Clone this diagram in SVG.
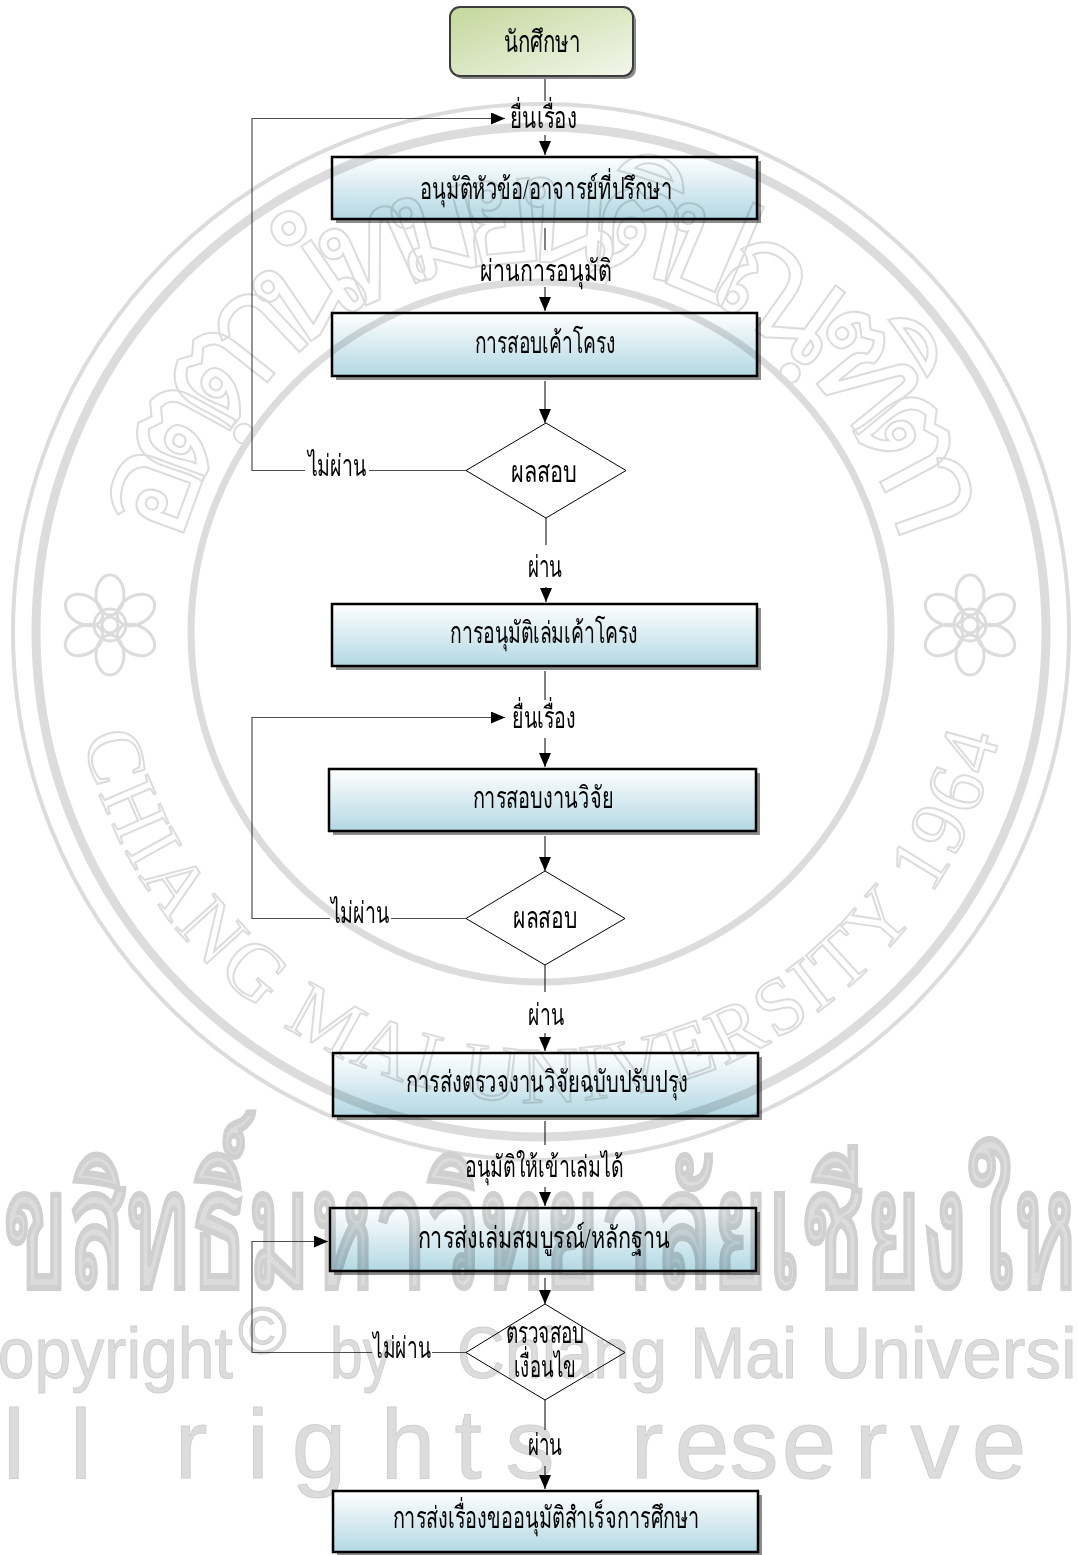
<svg xmlns="http://www.w3.org/2000/svg" width="1077" height="1555" viewBox="0 0 1077 1555">
<defs>
<linearGradient id="gBox" x1="0" y1="0" x2="0" y2="1">
<stop offset="0" stop-color="#ffffff"/>
<stop offset="0.3" stop-color="#e8f3f7"/>
<stop offset="1" stop-color="#b3d8e3"/>
</linearGradient>
<linearGradient id="gStart" x1="0" y1="0" x2="1" y2="1">
<stop offset="0" stop-color="#c3d79b"/>
<stop offset="1" stop-color="#f3f7ec"/>
</linearGradient>
<marker id="ah" viewBox="0 0 14 12" refX="14" refY="6" markerWidth="14" markerHeight="12" markerUnits="userSpaceOnUse" orient="auto">
<path d="M0,0 L14,6 L0,12 z" fill="#000"/>
</marker>
<path id="arcTop" d="M 180.5,548.8 A 370 370 0 0 1 901.5,548.8"/>
<path id="arcBot" d="M 83,737.7 A 470 470 0 0 0 999,737.7"/>
<g id="flower" fill="none" stroke="#dcdcdc" stroke-width="3">
<circle r="8"/>
<circle r="16"/>
<ellipse cx="0" cy="-30" rx="14" ry="20"/>
<ellipse cx="0" cy="-30" rx="14" ry="20" transform="rotate(60)"/>
<ellipse cx="0" cy="-30" rx="14" ry="20" transform="rotate(120)"/>
<ellipse cx="0" cy="-30" rx="14" ry="20" transform="rotate(180)"/>
<ellipse cx="0" cy="-30" rx="14" ry="20" transform="rotate(240)"/>
<ellipse cx="0" cy="-30" rx="14" ry="20" transform="rotate(300)"/>
</g>
</defs>
<style>
.sh{fill:#8c8c8c}
.box{fill:url(#gBox);stroke:#000;stroke-width:2.5}
.dia{fill:#fff;stroke:#000;stroke-width:1}
.t{font-family:"Liberation Serif","DejaVu Serif",serif;font-size:30px;fill:#000;text-anchor:middle}
.ts{text-anchor:start}
.ln{stroke:#000;stroke-width:1;fill:none}
.fb{stroke:#505050;stroke-width:1.2;fill:none}
.wm{fill:none;stroke:#dcdcdc}
.wt{fill:#dcdcdc;stroke:#d0d0d0;stroke-width:1}
.wf{font-family:"Liberation Sans",Arial,sans-serif}
</style>
<rect x="0" y="0" width="1077" height="1555" fill="#fff"/>

<g id="connectors">
<line class="ln" x1="545" y1="79" x2="545" y2="101"/>
<polyline class="fb" points="305,470.5 252,470.5 252,118.5 505,118.5" marker-end="url(#ah)"/>
<line class="fb" x1="369" y1="470.5" x2="466" y2="470.5"/>
<text class="t ts" x="510" y="128" textLength="67" lengthAdjust="spacingAndGlyphs">ยื่นเรื่อง</text>
<line class="ln" x1="545" y1="135" x2="545" y2="155" marker-end="url(#ah)"/>
<line class="ln" x1="545" y1="228" x2="545" y2="250"/>
<text class="t" x="546" y="281" textLength="132" lengthAdjust="spacingAndGlyphs">ผ่านการอนุมัติ</text>
<line class="ln" x1="545" y1="287" x2="545" y2="311" marker-end="url(#ah)"/>
<line class="ln" x1="545" y1="381" x2="545" y2="423" marker-end="url(#ah)"/>
<text class="t" x="337" y="476" textLength="59" lengthAdjust="spacingAndGlyphs">ไม่ผ่าน</text>
<line class="ln" x1="546" y1="518" x2="546" y2="545"/>
<text class="t" x="545" y="577" textLength="35" lengthAdjust="spacingAndGlyphs">ผ่าน</text>
<line class="ln" x1="546" y1="587" x2="546" y2="602" marker-end="url(#ah)"/>
<line class="ln" x1="545" y1="671" x2="545" y2="700"/>
<polyline class="fb" points="330,918.5 252,918.5 252,717.5 505,717.5" marker-end="url(#ah)"/>
<line class="fb" x1="391" y1="918.5" x2="466" y2="918.5"/>
<text class="t ts" x="512" y="728" textLength="64" lengthAdjust="spacingAndGlyphs">ยื่นเรื่อง</text>
<line class="ln" x1="545" y1="738" x2="545" y2="767" marker-end="url(#ah)"/>
<line class="ln" x1="545" y1="836" x2="545" y2="871" marker-end="url(#ah)"/>
<text class="t" x="360" y="923" textLength="59" lengthAdjust="spacingAndGlyphs">ไม่ผ่าน</text>
<line class="ln" x1="545" y1="965" x2="545" y2="992"/>
<text class="t" x="546" y="1025" textLength="36" lengthAdjust="spacingAndGlyphs">ผ่าน</text>
<line class="ln" x1="545" y1="1033" x2="545" y2="1051" marker-end="url(#ah)"/>
<line class="ln" x1="545" y1="1121" x2="545" y2="1145"/>
<text class="t" x="544" y="1177" textLength="158" lengthAdjust="spacingAndGlyphs">อนุมัติให้เข้าเล่มได้</text>
<line class="ln" x1="545" y1="1187" x2="545" y2="1206" marker-end="url(#ah)"/>
<line class="ln" x1="545" y1="1278" x2="545" y2="1304" marker-end="url(#ah)"/>
<polyline class="fb" points="372,1352.5 252,1352.5 252,1241.5 328,1241.5" marker-end="url(#ah)"/>
<line class="fb" x1="432" y1="1352.5" x2="466" y2="1352.5"/>
<text class="t" x="402" y="1358" textLength="58" lengthAdjust="spacingAndGlyphs">ไม่ผ่าน</text>
<line class="ln" x1="545" y1="1400" x2="545" y2="1430"/>
<text class="t" x="545" y="1455" textLength="35" lengthAdjust="spacingAndGlyphs">ผ่าน</text>
<line class="ln" x1="545" y1="1466" x2="545" y2="1489" marker-end="url(#ah)"/>
</g>

<g id="n-start">
<rect x="453" y="10" width="183" height="69" rx="10" fill="#8c8c8c"/>
<rect x="450" y="7" width="183" height="69" rx="10" fill="url(#gStart)" stroke="#3c3c3c" stroke-width="2"/>
<text class="t" x="542" y="52" textLength="77" lengthAdjust="spacingAndGlyphs">นักศึกษา</text>
</g>
<g id="n-approve-topic">
<rect class="sh" x="336" y="161" width="425" height="62"/>
<rect class="box" x="332" y="157" width="425" height="62"/>
<text class="t" x="546" y="199" textLength="252" lengthAdjust="spacingAndGlyphs">อนุมัติหัวข้อ/อาจารย์ที่ปรึกษา</text>
</g>
<g id="n-proposal-exam">
<rect class="sh" x="336" y="317" width="425" height="63"/>
<rect class="box" x="332" y="313" width="425" height="63"/>
<text class="t" x="545" y="353" textLength="141" lengthAdjust="spacingAndGlyphs">การสอบเค้าโครง</text>
</g>
<g id="n-result1">
<polygon class="dia" points="546,423 626,470.5 546,518 466,470.5"/>
<text class="t" x="544" y="482" textLength="66" lengthAdjust="spacingAndGlyphs">ผลสอบ</text>
</g>
<g id="n-approve-proposal">
<rect class="sh" x="336" y="608" width="425" height="62"/>
<rect class="box" x="332" y="604" width="425" height="62"/>
<text class="t" x="544" y="643" textLength="188" lengthAdjust="spacingAndGlyphs">การอนุมัติเล่มเค้าโครง</text>
</g>
<g id="n-thesis-exam">
<rect class="sh" x="333" y="773" width="427" height="62"/>
<rect class="box" x="329" y="769" width="427" height="62"/>
<text class="t" x="543" y="808" textLength="141" lengthAdjust="spacingAndGlyphs">การสอบงานวิจัย</text>
</g>
<g id="n-result2">
<polygon class="dia" points="545,871 625,918.5 545,965 466,918.5"/>
<text class="t" x="545" y="928" textLength="64" lengthAdjust="spacingAndGlyphs">ผลสอบ</text>
</g>
<g id="n-revised">
<rect class="sh" x="337" y="1057" width="425" height="63"/>
<rect class="box" x="333" y="1053" width="425" height="63"/>
<text class="t" x="547" y="1092" textLength="283" lengthAdjust="spacingAndGlyphs">การส่งตรวจงานวิจัยฉบับปรับปรุง</text>
</g>
<g id="n-submit-complete">
<rect class="sh" x="334" y="1212" width="426" height="63"/>
<rect class="box" x="330" y="1208" width="426" height="63"/>
<text class="t" x="544" y="1248" textLength="253" lengthAdjust="spacingAndGlyphs">การส่งเล่มสมบูรณ์/หลักฐาน</text>
</g>
<g id="n-check">
<polygon class="dia" points="545,1304 625,1352.5 545,1400 466,1352.5"/>
<text class="t" x="545" y="1343" textLength="79" lengthAdjust="spacingAndGlyphs">ตรวจสอบ</text>
<text class="t" x="545" y="1377" textLength="62" lengthAdjust="spacingAndGlyphs">เงื่อนไข</text>
</g>
<g id="n-graduate">
<rect class="sh" x="337" y="1495" width="425" height="61"/>
<rect class="box" x="333" y="1491" width="425" height="61"/>
<text class="t" x="546" y="1528" textLength="307" lengthAdjust="spacingAndGlyphs">การส่งเรื่องขออนุมัติสำเร็จการศึกษา</text>
</g>

<g id="watermark" style="mix-blend-mode:multiply">
<circle class="wm" cx="541" cy="632" r="528" stroke-width="4"/>
<circle class="wm" cx="541" cy="632" r="505" stroke-width="9"/>
<circle class="wm" cx="541" cy="632" r="350" stroke-width="7"/>
<text class="wm" font-family="Liberation Serif, serif" font-size="150" stroke-width="2"><textPath href="#arcTop" textLength="994" lengthAdjust="spacing">อตฺตานํ ทมยนฺติ ปณฺฑิตา</textPath></text>
<text class="wm" font-family="Liberation Serif, serif" font-size="80" stroke-width="2"><textPath href="#arcBot" textLength="1263" lengthAdjust="spacing">CHIANG MAI UNIVERSITY 1964</textPath></text>
<use href="#flower" x="110" y="625"/>
<use href="#flower" x="970" y="625"/>
<text class="wt" font-family="Liberation Serif, serif" font-size="165" font-weight="bold" x="-55" y="1287" textLength="1195" lengthAdjust="spacingAndGlyphs">ลิขสิทธิ์มหาวิทยาลัยเชียงใหม่</text>
<text class="wt wf" font-size="72" x="-50" y="1378" textLength="283" lengthAdjust="spacingAndGlyphs">Copyright</text>
<text class="wt wf" font-size="66" x="238" y="1353" textLength="49" lengthAdjust="spacingAndGlyphs">©</text>
<text class="wt wf" font-size="72" x="330" y="1378" textLength="62" lengthAdjust="spacingAndGlyphs">by</text>
<text class="wt wf" font-size="72" x="457" y="1378" textLength="210" lengthAdjust="spacingAndGlyphs">Chiang</text>
<text class="wt wf" font-size="72" x="690" y="1378" textLength="107" lengthAdjust="spacingAndGlyphs">Mai</text>
<text class="wt wf" font-size="72" x="820" y="1378" textLength="312" lengthAdjust="spacingAndGlyphs">University</text>
<text class="wt wf" font-size="98" text-anchor="middle" y="1478" x="-50 14 81 136 191 258 319 408 468 530 590 647 702 754 809 871 935 999 1140">All rights reserved</text>
</g>
</svg>
